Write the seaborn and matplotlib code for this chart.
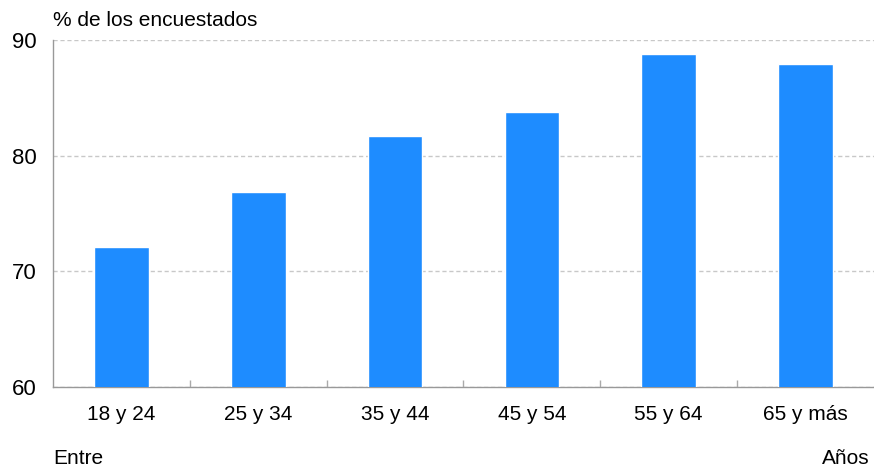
import numpy as np
import pandas as pd
import seaborn as sns
import matplotlib.pyplot as plt
from matplotlib.ticker import FixedLocator

# Data
grupos = ["18 y 24", "25 y 34", "35 y 44", "45 y 54", "55 y 64", "65 y más"]
porcentaje = [72.1, 76.9, 81.7, 83.8, 88.8, 87.9]
yticks = [60, 70, 80, 90]

df = pd.DataFrame({"grupo": grupos, "pct": porcentaje})

sns.set_style("white")
plt.rcParams['font.family'] = ['Liberation Sans', 'DejaVu Sans']
plt.rcParams['text.color'] = "black"
plt.rcParams['xtick.color'] = "black"
plt.rcParams['ytick.color'] = "black"

fig = plt.figure(figsize=(8.74, 4.66), dpi=100)
ax = fig.add_axes([0.0606, 0.1695, 0.9394, 0.7447])

sns.barplot(data=df, x="grupo", y="pct", color="#1E8CFF", width=0.4,
            saturation=1, ax=ax, zorder=3)

ax.set_ylim(60, 90)
ax.set_xlim(-0.5, len(grupos) - 0.5)
ax.set_yticks(yticks)
ax.yaxis.grid(True, linestyle=(0, (3, 2)), color="#c8c8c8", linewidth=1, zorder=0)
ax.set_xlabel("")
ax.set_ylabel("")

for s in ["top", "right"]:
    ax.spines[s].set_visible(False)
for s in ["left", "bottom"]:
    ax.spines[s].set_color("#999999")
    ax.spines[s].set_linewidth(1)

ax.tick_params(axis="y", length=0, labelsize=16, pad=12, labelcolor="black")
ax.tick_params(axis="x", which="major", length=0, labelsize=15, pad=13,
               labelcolor="black")
ax.xaxis.set_minor_locator(FixedLocator(np.arange(0.5, len(grupos) - 0.5, 1)))
ax.tick_params(axis="x", which="minor", bottom=True, direction="in", length=5,
               color="#aaaaaa", width=1)

fig.text(0.0606, 0.955, "% de los encuestados", fontsize=15, va="center", ha="left")
fig.text(0.0606, 0.017, "Entre", fontsize=15, va="center", ha="left")
fig.text(0.995, 0.017, "Años", fontsize=15, va="center", ha="right")

fig.savefig("out.png", dpi=100)
